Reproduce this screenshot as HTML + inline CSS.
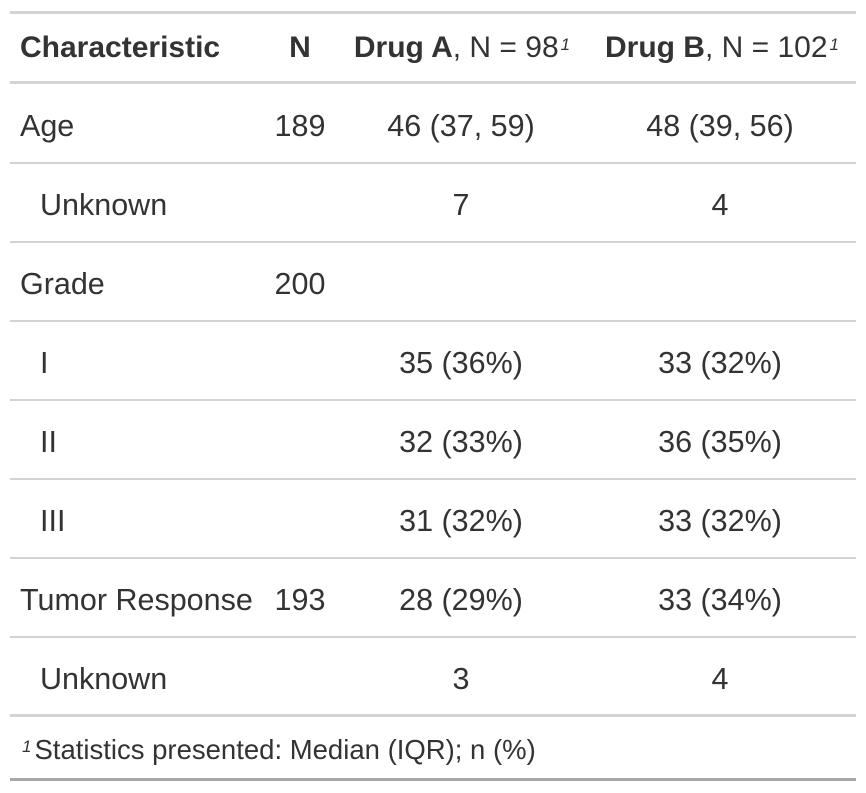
<!DOCTYPE html>
<html><head><meta charset="utf-8">
<style>
body{margin:0;background:#fff;width:866px;height:793px;position:relative;overflow:hidden;font-family:"Liberation Sans",sans-serif;color:#333;}
.l{position:absolute;left:10px;width:846px;background:#d3d3d3;}
.t{position:absolute;font-size:30.5px;line-height:34px;white-space:nowrap;}
.c{transform:translateX(-50%);}
b{font-weight:bold;}
sup{font-size:17px;font-style:italic;vertical-align:top;position:relative;top:-3px;margin-left:2px;}
</style></head><body>
<div class="l" style="top:11px;height:3px"></div>
<div class="l" style="top:81px;height:3px"></div>
<div class="t" style="left:20px;top:31px;font-size:30px"><b>Characteristic</b></div>
<div class="t c" style="left:300px;top:31px;font-size:30px"><b>N</b></div>
<div class="t c" style="left:462px;top:31px;font-size:30px"><b>Drug A</b>, N = 98<sup>1</sup></div>
<div class="t c" style="left:722px;top:31px;font-size:30px"><b>Drug B</b>, N = 102<sup>1</sup></div>
<div id="rows"></div>
<div class="l" style="top:714px;height:3px"></div>
<div class="t" style="left:20px;top:733px;font-size:27.5px"><sup style="margin-right:3px">1</sup>Statistics presented: Median (IQR); n (%)</div>
<div class="l" style="top:778px;height:3px;background:#a8a8a8"></div>
<script>
const labels=["Age","Unknown","Grade","I","II","III","Tumor Response","Unknown"];
const indent=[0,1,0,1,1,1,0,1];
const nVals=["189","","200","","","","193",""];
const drugA=["46 (37, 59)","7","","35 (36%)","32 (33%)","31 (32%)","28 (29%)","3"];
const drugB=["48 (39, 56)","4","","33 (32%)","36 (35%)","33 (32%)","33 (34%)","4"];
const host=document.getElementById('rows');
labels.forEach((lab,i)=>{
  const cy=126+i*79;
  const mk=(txt,left,center,name)=>{
    const d=document.createElement('div');
    d.className='t'+(center?' c':'');
    d.style.left=left+'px';d.style.top=(cy-17)+'px';
    d.textContent=txt;
    
    
    host.appendChild(d);
  };
  mk(lab,indent[i]?40:20,false,'row-label');
  if(nVals[i])mk(nVals[i],300,true,'cell-n');
  if(drugA[i])mk(drugA[i],461,true,'cell-drug-a');
  if(drugB[i])mk(drugB[i],720,true,'cell-drug-b');
  if(i<labels.length-1){
    const ln=document.createElement('div');
    ln.className='l';ln.style.top=(cy+36)+'px';ln.style.height='2px';
    
    
    host.appendChild(ln);
  }
});
</script>
</body></html>
